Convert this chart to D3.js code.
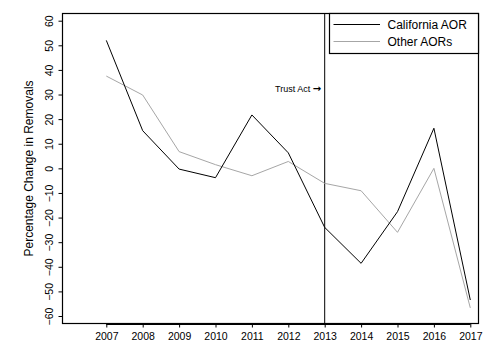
<!DOCTYPE html>
<html><head><meta charset="utf-8">
<script src="https://cdn.jsdelivr.net/npm/d3@7"></script>
<style>body{margin:0;background:#fff}svg{display:block}text{font-family:"Liberation Sans",Arial,sans-serif;fill:#000}</style>
</head><body><svg id="c" width="493" height="358"></svg>
<script>
const years = [2007,2008,2009,2010,2011,2012,2013,2014,2015,2016,2017];
const california = [52,15.3,-0.3,-3.8,21.7,6.3,-24,-38.6,-17.6,16.3,-53.5];
const other = [37.5,29.8,6.8,1.5,-3,2.8,-6.1,-9.1,-26,0,-56.7];
const yTicks = [-60,-50,-40,-30,-20,-10,0,10,20,30,40,50,60];
const seriesNames = ["California AOR","Other AORs"];
const eventYear = 2013;
const eventLabel = "Trust Act ";
const eventArrow = "\u2192";
const yTitle = "Percentage Change in Removals";

const svg = d3.select("#c");
const box = {l:62.5, r:478.5, t:13.5, b:323.5};
const x = d3.scaleLinear().domain([2007,2017]).range([106.3,470.3]);
const y = d3.scaleLinear().domain([60,-60]).range([20.7,316]);
const gray = "#a6a6a6";

// plot box
svg.append("rect").attr("x",box.l).attr("y",box.t).attr("width",box.r-box.l).attr("height",box.b-box.t)
  .attr("fill","none").attr("stroke","#000").attr("stroke-width",1.2);

// x axis
const xa = svg.append("g").attr("transform",`translate(0,${box.b})`)
  .call(d3.axisBottom(x).tickValues(years).tickFormat(d3.format("d")).tickSize(4).tickPadding(5).tickSizeOuter(0));
xa.select(".domain").attr("stroke-width",2.2).attr("d",`M${x(2007)},0.5H${x(2017)}`);
xa.selectAll("text").style("font-size","10.5px").attr("dy","0.71em").attr("y",9);

// y axis
const ya = svg.append("g").attr("transform",`translate(${box.l},0)`)
  .call(d3.axisLeft(y).tickValues(yTicks).tickSize(4).tickSizeOuter(0));
ya.select(".domain").remove();
ya.selectAll(".tick text").style("font-size","10.5px").attr("x",null).attr("dy",null)
  .attr("text-anchor","middle").attr("transform","translate(-9.5,0) rotate(-90)");

// y title
svg.append("text").attr("transform",`translate(32.5,${(box.t+box.b)/2}) rotate(-90)`)
  .attr("text-anchor","middle").style("font-size","12px").text(yTitle);

// event line
svg.append("line").attr("x1",x(eventYear)).attr("x2",x(eventYear)).attr("y1",box.t).attr("y2",box.b)
  .attr("stroke","#000").attr("stroke-width",1);
const ev = svg.append("text").attr("x",x(eventYear)-3.5).attr("y",92).attr("text-anchor","end")
  .style("font-size","9px");
ev.append("tspan").text(eventLabel);
ev.append("tspan").style("font-family","DejaVu Sans").style("font-size","10px").style("font-weight","bold").text(eventArrow);

const line = d3.line().x((d,i)=>x(years[i])).y(d=>y(d));
svg.append("path").datum(other).attr("d",line).attr("fill","none").attr("stroke",gray).attr("stroke-width",1);
svg.append("path").datum(california).attr("d",line).attr("fill","none").attr("stroke","#000").attr("stroke-width",1);

// legend
const lg = svg.append("g");
lg.append("rect").attr("x",329.5).attr("y",box.t).attr("width",box.r-329.5).attr("height",53.5-box.t)
  .attr("fill","#fff").attr("stroke","#000").attr("stroke-width",1.2);
[["#000",24.5],[gray,41.5]].forEach((s,i)=>{
  lg.append("line").attr("x1",333.5).attr("x2",380).attr("y1",s[1]).attr("y2",s[1]).attr("stroke",s[0]).attr("stroke-width",1);
  lg.append("text").attr("x",387.5).attr("y",s[1]+4.3).style("font-size","12px").text(seriesNames[i]);
});
</script></body></html>
